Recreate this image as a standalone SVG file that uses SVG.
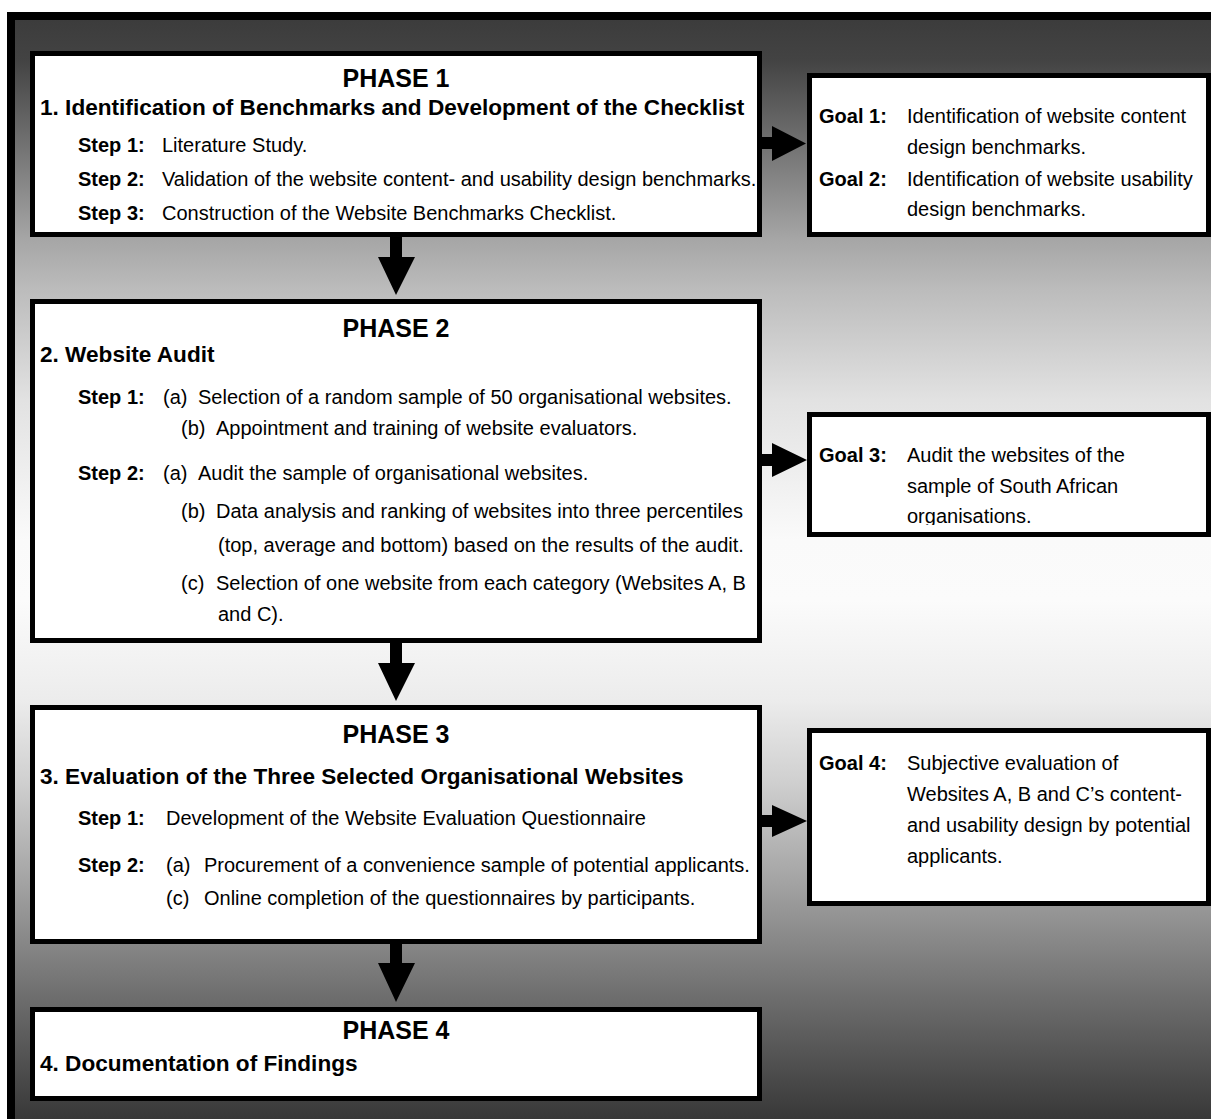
<svg xmlns="http://www.w3.org/2000/svg" width="1211" height="1119" viewBox="0 0 1211 1119">
  <defs>
    <linearGradient id="bg" gradientUnits="userSpaceOnUse" x1="0" y1="20" x2="0" y2="1119">
      <stop offset="0" stop-color="#3c3c3c"/>
      <stop offset="0.036" stop-color="#434343"/>
      <stop offset="0.2" stop-color="#a6a6a6"/>
      <stop offset="0.246" stop-color="#bcbcbc"/>
      <stop offset="0.346" stop-color="#e2e2e2"/>
      <stop offset="0.473" stop-color="#fafafa"/>
      <stop offset="0.528" stop-color="#fbfbfb"/>
      <stop offset="0.619" stop-color="#ececec"/>
      <stop offset="0.692" stop-color="#d0d0d0"/>
      <stop offset="0.783" stop-color="#a4a4a4"/>
      <stop offset="0.892" stop-color="#6c6c6c"/>
      <stop offset="1" stop-color="#383838"/>
    </linearGradient>
    <clipPath id="goal3clip">
      <rect x="812" y="419" width="394" height="106"/>
    </clipPath>
  </defs>
  <style>
    .box { fill: #ffffff; stroke: #000000; stroke-width: 5; }
    .arrow { fill: #000000; }
    text { font-family: "Liberation Sans", Arial, Helvetica, sans-serif; fill: #000000; }
    .phase { font-size: 25px; font-weight: bold; text-anchor: middle; }
    .head { font-size: 22.6px; font-weight: bold; }
    .lbl { font-size: 20px; font-weight: bold; }
    .txt { font-size: 20px; }
  </style>

  <!-- frame and shaded background -->
  <rect x="11" y="16" width="1220" height="1120" fill="url(#bg)" stroke="#000000" stroke-width="8"/>

  <!-- connectors -->
  <g id="connectors">
    <polygon class="arrow" points="390,236 402,236 402,257 415,257 396,295 378,257 390,257"/>
    <polygon class="arrow" points="390,642 402,642 402,663 415,663 396,701 378,663 390,663"/>
    <polygon class="arrow" points="390,943 402,943 402,963 415,963 396,1002 378,963 390,963"/>
    <polygon class="arrow" points="761,137 772,137 772,126 806,143.5 772,161 772,149 761,149"/>
    <polygon class="arrow" points="761,454 772,454 772,443 807,460 772,477 772,466 761,466"/>
    <polygon class="arrow" points="761,815 772,815 772,805 807,821 772,837 772,827 761,827"/>
  </g>

  <!-- Phase 1 -->
  <g id="phase1">
    <rect class="box" x="32.5" y="53.5" width="727" height="181"/>
    <text class="phase" x="396" y="87">PHASE 1</text>
    <text class="head" x="40" y="115">1. Identification of Benchmarks and Development of the Checklist</text>
    <text class="lbl" x="78" y="152">Step 1:</text>
    <text class="txt" x="162" y="152">Literature Study.</text>
    <text class="lbl" x="78" y="186">Step 2:</text>
    <text class="txt" x="162" y="186">Validation of the website content- and usability design benchmarks.</text>
    <text class="lbl" x="78" y="220">Step 3:</text>
    <text class="txt" x="162" y="220">Construction of the Website Benchmarks Checklist.</text>
  </g>

  <!-- Goals 1 and 2 -->
  <g id="goal1">
    <rect class="box" x="809.5" y="75.5" width="399" height="159"/>
    <text class="lbl" x="819" y="122.5">Goal 1:</text>
    <text class="txt" x="907" y="122.5">Identification of website content</text>
    <text class="txt" x="907" y="153.5">design benchmarks.</text>
    <text class="lbl" x="819" y="185.5">Goal 2:</text>
    <text class="txt" x="907" y="185.5">Identification of website usability</text>
    <text class="txt" x="907" y="216">design benchmarks.</text>
  </g>

  <!-- Phase 2 -->
  <g id="phase2">
    <rect class="box" x="32.5" y="301.5" width="727" height="339"/>
    <text class="phase" x="396" y="337">PHASE 2</text>
    <text class="head" x="40" y="362">2. Website Audit</text>
    <text class="lbl" x="78" y="404">Step 1:</text>
    <text class="txt" x="163" y="404">(a)</text>
    <text class="txt" x="198" y="404">Selection of a random sample of 50 organisational websites.</text>
    <text class="txt" x="181" y="435">(b)</text>
    <text class="txt" x="216" y="435">Appointment and training of website evaluators.</text>
    <text class="lbl" x="78" y="480">Step 2:</text>
    <text class="txt" x="163" y="480">(a)</text>
    <text class="txt" x="198" y="480">Audit the sample of organisational websites.</text>
    <text class="txt" x="181" y="518">(b)</text>
    <text class="txt" x="216" y="518">Data analysis and ranking of websites into three percentiles</text>
    <text class="txt" x="218" y="552">(top, average and bottom) based on the results of the audit.</text>
    <text class="txt" x="181" y="590">(c)</text>
    <text class="txt" x="216" y="590">Selection of one website from each category (Websites A, B</text>
    <text class="txt" x="218" y="621">and C).</text>
  </g>

  <!-- Goal 3 -->
  <g id="goal3">
    <rect class="box" x="809.5" y="414.5" width="399" height="120"/>
    <g clip-path="url(#goal3clip)">
      <text class="lbl" x="819" y="462">Goal 3:</text>
      <text class="txt" x="907" y="462">Audit the websites of the</text>
      <text class="txt" x="907" y="493">sample of South African</text>
      <text class="txt" x="907" y="523">organisations.</text>
    </g>
  </g>

  <!-- Phase 3 -->
  <g id="phase3">
    <rect class="box" x="32.5" y="707.5" width="727" height="234"/>
    <text class="phase" x="396" y="743">PHASE 3</text>
    <text class="head" x="40" y="783.5">3. Evaluation of the Three Selected Organisational Websites</text>
    <text class="lbl" x="78" y="825">Step 1:</text>
    <text class="txt" x="166" y="825">Development of the Website Evaluation Questionnaire</text>
    <text class="lbl" x="78" y="872">Step 2:</text>
    <text class="txt" x="166" y="872">(a)</text>
    <text class="txt" x="204" y="872">Procurement of a convenience sample of potential applicants.</text>
    <text class="txt" x="166" y="905">(c)</text>
    <text class="txt" x="204" y="905">Online completion of the questionnaires by participants.</text>
  </g>

  <!-- Goal 4 -->
  <g id="goal4">
    <rect class="box" x="809.5" y="730.5" width="399" height="173"/>
    <text class="lbl" x="819" y="769.5">Goal 4:</text>
    <text class="txt" x="907" y="769.5">Subjective evaluation of</text>
    <text class="txt" x="907" y="801">Websites A, B and C’s content-</text>
    <text class="txt" x="907" y="832">and usability design by potential</text>
    <text class="txt" x="907" y="863">applicants.</text>
  </g>

  <!-- Phase 4 -->
  <g id="phase4">
    <rect class="box" x="32.5" y="1009.5" width="727" height="89"/>
    <text class="phase" x="396" y="1039">PHASE 4</text>
    <text class="head" x="40" y="1071">4. Documentation of Findings</text>
  </g>
</svg>
